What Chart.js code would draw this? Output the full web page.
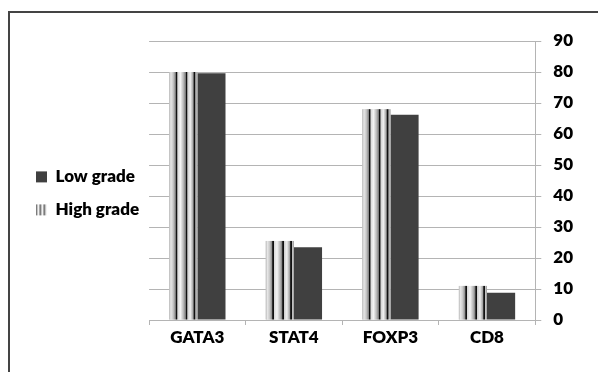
<!DOCTYPE html>
<html>
<head>
<meta charset="utf-8">
<script src="https://cdn.jsdelivr.net/npm/chart.js@4/dist/chart.umd.min.js"></script>
<style>
  html, body { margin: 0; padding: 0; background: #ffffff; }
  #wrap { width: 598px; height: 372px; position: relative; }
</style>
</head>
<body>
<div id="wrap"><canvas id="chart"></canvas></div>
<script>
// Marker expression by tumour grade
const categories = ['GATA3', 'STAT4', 'FOXP3', 'CD8'];
const highGrade = [80, 25.5, 68, 11];
const lowGrade = [79.6, 23.5, 66.2, 8.8];
const yTicks = [0, 10, 20, 30, 40, 50, 60, 70, 80, 90];

const FONT = 'Lato, "Liberation Sans", Arial, sans-serif';
const WEIGHT = 800;
const LOW_COLOR = '#404040';
const GRID = '#b4b4b4';

// small vertical-stripe swatch for the legend marker
function stripeSwatch() {
  const c = document.createElement('canvas');
  c.width = 4; c.height = 1;
  const g = c.getContext('2d');
  ['#7c7c7c', '#c4c4c4', '#f2f2f2', '#a8a8a8'].forEach((col, i) => {
    g.fillStyle = col; g.fillRect(i, 0, 1, 1);
  });
  return g.createPattern(c, 'repeat');
}

// metallic striped fill laid across each high-grade bar
const stripeStops = [
  [0.00, '#b8b8b8'], [0.06, '#e6e6e6'], [0.14, '#c8c8c8'], [0.22, '#8a8a8a'],
  [0.245, '#111111'], [0.28, '#111111'], [0.30, '#d8d8d8'], [0.40, '#f4f4f4'],
  [0.52, '#b0b0b0'], [0.58, '#7a7a7a'], [0.60, '#111111'], [0.635, '#111111'],
  [0.655, '#cfcfcf'], [0.75, '#f0f0f0'], [0.85, '#a0a0a0'], [0.885, '#111111'],
  [0.92, '#111111'], [0.94, '#c8c8c8'], [1.00, '#9a9a9a']
];

const stripedBars = {
  id: 'stripedBars',
  afterDatasetDraw(chart, args) {
    if (args.index !== 0) return;
    const ctx = chart.ctx;
    const area = chart.chartArea;
    ctx.save();
    ctx.beginPath();
    ctx.rect(area.left, area.top, area.right - area.left, area.bottom - area.top);
    ctx.clip();
    args.meta.data.forEach(el => {
      const p = el.getProps(['x', 'y', 'base', 'width'], true);
      const left = p.x - p.width / 2;
      const grad = ctx.createLinearGradient(left, 0, left + p.width, 0);
      stripeStops.forEach(s => grad.addColorStop(s[0], s[1]));
      ctx.fillStyle = grad;
      ctx.fillRect(left, Math.min(p.y, p.base), p.width, Math.abs(p.base - p.y));
    });
    ctx.restore();
  }
};

// thin dark frame along the top and left edges
const frame = {
  id: 'frame',
  beforeDraw(chart) {
    const ctx = chart.ctx;
    ctx.save();
    ctx.strokeStyle = '#444444';
    ctx.lineWidth = 2;
    ctx.beginPath();
    ctx.moveTo(9, chart.height + 2);
    ctx.lineTo(9, 12);
    ctx.lineTo(chart.width + 2, 12);
    ctx.stroke();
    ctx.restore();
  }
};

const swatch = stripeSwatch();

new Chart(document.getElementById('chart'), {
  type: 'bar',
  data: {
    labels: categories,
    datasets: [
      { label: 'High grade', data: highGrade, backgroundColor: '#d0d0d0', borderWidth: 0 },
      { label: 'Low grade', data: lowGrade, backgroundColor: LOW_COLOR, borderWidth: 0 }
    ]
  },
  options: {
    responsive: true,
    maintainAspectRatio: false,
    animation: false,
    events: [],
    datasets: { bar: { barPercentage: 1.0, categoryPercentage: 0.583 } },
    layout: { padding: { top: 41, left: 20, right: 13, bottom: 0 } },
    plugins: {
      tooltip: { enabled: false },
      legend: {
        position: 'left',
        align: 'start',
        reverse: true,
        title: { display: true, text: '', padding: { top: 97, bottom: 0 } },
        labels: {
          boxWidth: 11,
          boxHeight: 11,
          padding: 16,
          color: '#000000',
          font: { family: FONT, size: 17, weight: WEIGHT },
          generateLabels(chart) {
            return chart.data.datasets.map((ds, i) => ({
              text: ds.label,
              fillStyle: i === 0 ? swatch : LOW_COLOR,
              strokeStyle: 'rgba(0,0,0,0)',
              lineWidth: 0,
              hidden: false,
              datasetIndex: i,
              fontColor: '#000000'
            }));
          }
        }
      }
    },
    scales: {
      x: {
        afterFit(scale) { scale.height = 52; },
        grid: { display: true, drawOnChartArea: false, drawTicks: true, tickLength: 5, color: GRID, offset: true },
        border: { display: true, color: GRID, width: 1 },
        ticks: { color: '#000000', padding: 2, font: { family: FONT, size: 17, weight: WEIGHT } }
      },
      y: {
        position: 'right',
        min: 0,
        max: 90,
        afterBuildTicks(scale) { scale.ticks = yTicks.map(v => ({ value: v })); },
        grid: { color: GRID, lineWidth: 1, tickLength: 6, drawTicks: true },
        border: { display: true, color: GRID, width: 1 },
        ticks: { color: '#000000', padding: 12, font: { family: FONT, size: 17, weight: WEIGHT } }
      }
    }
  },
  plugins: [frame, stripedBars]
});
</script>
</body>
</html>
